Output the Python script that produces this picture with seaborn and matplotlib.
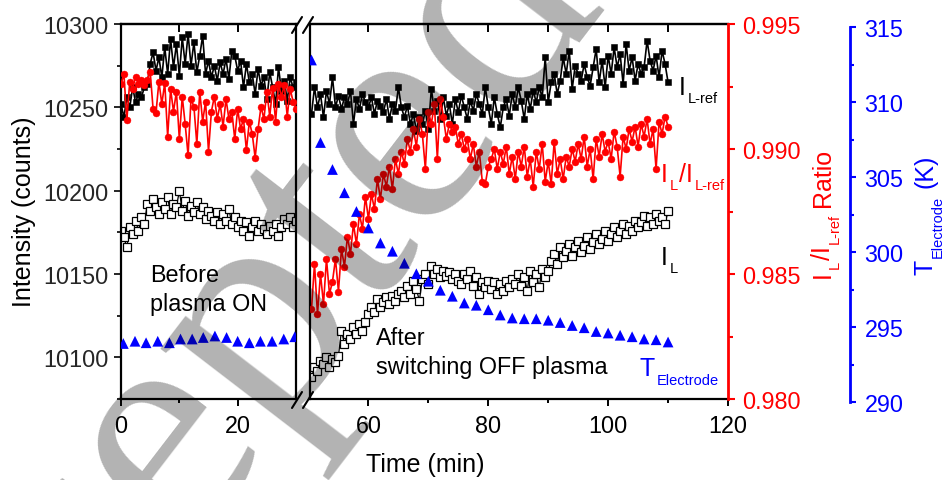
import numpy as np
import matplotlib
matplotlib.use("Agg")
import matplotlib.pyplot as plt
from matplotlib.lines import Line2D
from matplotlib.ticker import MultipleLocator, FixedLocator, FormatStrFormatter
import seaborn as sns

sns.set_theme(style="white")
plt.rcParams["font.family"] = ["Liberation Sans", "DejaVu Sans"]

# ---------------------------------------------------------------- data
# one reading every 30 s
t_before = np.arange(0.0, 30.01, 0.5)
t_after = np.arange(50.5, 110.01, 0.5)

i_ref_before = [
    10252, 10244, 10256, 10250, 10262, 10253, 10258, 10256, 10262, 10264,
    10276, 10283, 10272, 10280, 10268, 10286, 10270, 10291, 10274, 10288,
    10269, 10292, 10276, 10294, 10275, 10289, 10271, 10281, 10293, 10270,
    10278, 10268, 10275, 10266, 10277, 10270, 10279, 10267, 10284, 10281,
    10272, 10278, 10262, 10276, 10265, 10270, 10258, 10273, 10263, 10268,
    10255, 10271, 10262, 10252, 10274, 10260, 10266, 10254, 10268, 10262,
    10265]
ratio_before = [
    0.99260, 0.99300, 0.99115, 0.99270, 0.99240, 0.99290, 0.99260, 0.99275, 0.99255, 0.99275,
    0.99310, 0.99160, 0.99145, 0.99270, 0.99180, 0.99265, 0.99050, 0.99240, 0.99150, 0.99230,
    0.99040, 0.99210, 0.99100, 0.98975, 0.99200, 0.99170, 0.99020, 0.99230, 0.99110, 0.99190,
    0.98990, 0.99150, 0.99210, 0.99120, 0.99180, 0.99090, 0.99200, 0.99120, 0.99150, 0.99040,
    0.99160, 0.99080, 0.99120, 0.98995, 0.99110, 0.99060, 0.98965, 0.99080, 0.99170, 0.99120,
    0.99230, 0.99130, 0.99245, 0.99110, 0.99260, 0.99210, 0.99255, 0.99130, 0.99240, 0.99190,
    0.99160]
i_l_before = [
    10176, 10172, 10166, 10178, 10174, 10182, 10176, 10184, 10180, 10192,
    10188, 10195, 10190, 10186, 10193, 10189, 10196, 10186, 10192, 10190,
    10200, 10188, 10194, 10185, 10191, 10187, 10193, 10186, 10190, 10183,
    10188, 10185, 10182, 10187, 10180, 10186, 10182, 10189, 10180, 10184,
    10178, 10182, 10176, 10181, 10173, 10178, 10182, 10176, 10180, 10177,
    10174, 10179, 10176, 10180, 10173, 10178, 10183, 10180, 10184, 10178,
    10182]

i_ref_after = [
    10246, 10262, 10250, 10258, 10244, 10260, 10252, 10268, 10250, 10257,
    10249, 10256, 10252, 10260, 10240, 10255, 10249, 10258, 10253, 10250,
    10256, 10246, 10254, 10251, 10247, 10255, 10243, 10252, 10248, 10262,
    10250, 10244, 10251, 10240, 10246, 10236, 10244, 10240, 10248, 10237,
    10261, 10248, 10254, 10243, 10256, 10245, 10252, 10240, 10255, 10247,
    10257, 10250, 10243, 10254, 10248, 10258, 10252, 10246, 10262, 10250,
    10240, 10256, 10246, 10238, 10250, 10255, 10245, 10258, 10250, 10262,
    10254, 10243, 10258, 10249, 10260, 10253, 10262, 10256, 10280, 10253,
    10265, 10270, 10258, 10266, 10280, 10270, 10284, 10261, 10275, 10270,
    10266, 10276, 10268, 10263, 10274, 10285, 10265, 10278, 10262, 10281,
    10270, 10286, 10274, 10282, 10264, 10288, 10272, 10280, 10266, 10276,
    10270, 10274, 10290, 10278, 10272, 10281, 10268, 10284, 10276, 10265]
ratio_after = [
    0.98360, 0.98540, 0.98340, 0.98500, 0.98380, 0.98560, 0.98420, 0.98470, 0.98560, 0.98430,
    0.98600, 0.98530, 0.98650, 0.98580, 0.98700, 0.98620, 0.98740, 0.98680, 0.98810, 0.98720,
    0.98820, 0.98760, 0.98880, 0.98800, 0.98900, 0.98850, 0.98930, 0.98840, 0.98960, 0.98900,
    0.98990, 0.98940, 0.99040, 0.98990, 0.99080, 0.99010, 0.99120, 0.99060, 0.98920, 0.99150,
    0.99100, 0.99180, 0.98960, 0.99200, 0.99130, 0.99040, 0.99100, 0.99070, 0.99090, 0.99020,
    0.99060, 0.99000, 0.99040, 0.98960, 0.99020, 0.98930, 0.98990, 0.98870, 0.98860, 0.98930,
    0.98960, 0.99000, 0.98920, 0.98990, 0.98940, 0.99010, 0.98900, 0.98970, 0.98880, 0.98990,
    0.98930, 0.99010, 0.98890, 0.98960, 0.98850, 0.98990, 0.98920, 0.99020, 0.98870, 0.98950,
    0.98860, 0.99030, 0.98900, 0.98960, 0.98880, 0.98970, 0.98930, 0.99000, 0.98950, 0.99020,
    0.98960, 0.99050, 0.98930, 0.99000, 0.98880, 0.99040, 0.98970, 0.99060, 0.98990, 0.99030,
    0.98960, 0.99070, 0.99010, 0.98890, 0.99050, 0.99000, 0.99080, 0.99030, 0.99090, 0.99010,
    0.99100, 0.99050, 0.99120, 0.99020, 0.99080, 0.98920, 0.99110, 0.99060, 0.99130, 0.99090]
i_l_after = [
    10088, 10094, 10092, 10098, 10096, 10100, 10094, 10099, 10097, 10101,
    10116, 10108, 10114, 10111, 10118, 10114, 10120, 10116, 10121, 10126,
    10130, 10127, 10135, 10130, 10133, 10136, 10132, 10137, 10134, 10138,
    10140, 10136, 10143, 10138, 10146, 10141, 10134, 10147, 10150, 10144,
    10155, 10150, 10153, 10148, 10152, 10149, 10151, 10147, 10150, 10146,
    10144, 10150, 10147, 10152, 10143, 10148, 10138, 10145, 10142, 10146,
    10141, 10145, 10138, 10144, 10140, 10146, 10142, 10147, 10144, 10150,
    10143, 10148, 10140, 10152, 10145, 10150, 10142, 10153, 10148, 10152,
    10158, 10162, 10156, 10166, 10160, 10164, 10168, 10161, 10166, 10170,
    10163, 10167, 10172, 10165, 10169, 10174, 10168, 10171, 10176, 10170,
    10174, 10178, 10172, 10176, 10180, 10174, 10179, 10176, 10182, 10178,
    10181, 10185, 10179, 10184, 10180, 10186, 10182, 10184, 10180, 10188]

t_temp_before = [0.4, 2.4, 4.3, 6.3, 8.3, 10.2, 12.2, 14.1, 16.1, 18.1,
                 20.0, 22.0, 23.9, 25.9, 27.9, 29.8]
temp_before = [293.9, 294.05, 293.95, 294.05, 293.95, 294.2, 294.2, 294.3,
               294.4, 294.3, 294.05, 293.95, 294.05, 294.05, 294.2, 294.35]
t_temp_after = [50.5, 52, 54, 56, 58, 60, 62, 64, 66, 68, 70, 72, 74, 76, 78,
                80, 82, 84, 86, 88, 90, 92, 94, 96, 98, 100, 102, 104, 106,
                108, 110]
temp_after = [312.8, 307.3, 305.5, 303.95, 302.7, 301.6, 300.6, 300.05,
              299.25, 298.55, 298.05, 297.45, 297.05, 296.6, 296.45, 296.15,
              295.8, 295.6, 295.55, 295.55, 295.45, 295.3, 295.1, 294.95,
              294.7, 294.6, 294.45, 294.35, 294.2, 294.15, 294.0]

# ---------------------------------------------------------------- layout
W, H = 945, 481
fig = plt.figure(figsize=(W / 100, H / 100), dpi=100)
fig.patch.set_facecolor("white")


def box(x0, x1, y0, y1):
    return [x0 / W, 1 - y1 / H, (x1 - x0) / W, (y1 - y0) / H]


LW = 1.6
TS = 16.8
axL = fig.add_axes(box(121, 296, 25, 400))
axR = fig.add_axes(box(310, 728, 25, 400))
axLr = axL.twinx()
axRr = axR.twinx()
axLt = fig.add_axes(box(121, 296, 28, 403), sharex=axL)
axRt = fig.add_axes(box(310, 728, 28, 403), sharex=axR)
for a in (axLt, axRt):
    a.patch.set_visible(False)

# ---------------------------------------------------------------- series


def draw_counts(ax, t, ref, il):
    sns.lineplot(x=t, y=ref, ax=ax, color="black", linewidth=1.2,
                 marker="s", markersize=4.6, markerfacecolor="black",
                 markeredgecolor="black", markeredgewidth=0.4,
                 estimator=None, sort=False, errorbar=None)
    sns.lineplot(x=t, y=il, ax=ax, color="black", linewidth=0.9,
                 marker="s", markersize=5.2, markerfacecolor="white",
                 markeredgecolor="black", markeredgewidth=0.9,
                 estimator=None, sort=False, errorbar=None)


def draw_ratio(ax, t, r):
    sns.lineplot(x=t, y=r, ax=ax, color="red", linewidth=1.2,
                 marker="o", markersize=5.0, markerfacecolor="red",
                 markeredgecolor="red", markeredgewidth=0.3,
                 estimator=None, sort=False, errorbar=None)


def draw_temp(ax, t, T):
    sns.scatterplot(x=t, y=T, ax=ax, marker="^", s=60, color="blue",
                    edgecolor="none", linewidth=0)


draw_counts(axL, t_before, i_ref_before, i_l_before)
draw_counts(axR, t_after, i_ref_after, i_l_after)
draw_ratio(axLr, t_before, ratio_before)
draw_ratio(axRr, t_after, ratio_after)
draw_temp(axLt, t_temp_before, temp_before)
draw_temp(axRt, t_temp_after, temp_after)

# ---------------------------------------------------------------- axes
axL.set_xlim(0, 30)
axR.set_xlim(50.25, 120)
for a in (axL, axR):
    a.set_ylim(10075, 10300)
for a in (axLr, axRr):
    a.set_ylim(0.980, 0.995)
for a in (axLt, axRt):
    a.set_ylim(290, 315)

for a in (axL, axR, axLr, axRr, axLt, axRt):
    a.set_xlabel("")
    a.set_ylabel("")
    a.grid(False)

for a in (axLr, axLt):
    a.set_axis_off()

# main counts axes
for a in (axL, axR):
    for s in a.spines.values():
        s.set_color("black")
        s.set_linewidth(LW)
    a.tick_params(axis="x", which="both", bottom=True, top=False,
                  direction="out", colors="black", labelsize=TS, pad=6,
                  width=1.4)
    a.tick_params(axis="x", which="major", length=5)
    a.tick_params(axis="x", which="minor", length=3)

axL.xaxis.set_major_locator(FixedLocator([0, 20]))
axL.xaxis.set_minor_locator(FixedLocator([10]))
axR.xaxis.set_major_locator(FixedLocator([60, 80, 100, 120]))
axR.xaxis.set_minor_locator(FixedLocator([70, 90, 110]))

axL.yaxis.set_major_locator(FixedLocator([10100, 10150, 10200, 10250, 10300]))
axL.yaxis.set_minor_locator(FixedLocator([10075, 10125, 10175, 10225, 10275]))
axL.yaxis.set_major_formatter(FormatStrFormatter("%d"))
axL.tick_params(axis="y", which="both", left=True, right=False,
                direction="out", labelsize=TS, pad=4, width=1.4)
axL.tick_params(axis="y", which="major", length=5)
axL.tick_params(axis="y", which="minor", length=3)
axR.tick_params(axis="y", which="both", left=False, right=False,
                labelleft=False, labelright=False)
axR.spines["right"].set_visible(False)

# inward ticks along the top edge
for a, ticks in ((axL, [10, 20]), (axR, [60, 70, 80, 90, 100, 110])):
    sec = a.secondary_xaxis("top")
    sec.set_xticks(ticks)
    sec.tick_params(axis="x", direction="in", length=6, width=1.4,
                    labeltop=False, colors="black")
    sec.spines["top"].set_linewidth(LW)

# ratio axis (red)
for k in ("top", "bottom", "left"):
    axRr.spines[k].set_visible(False)
axRr.spines["right"].set_color("red")
axRr.spines["right"].set_linewidth(2.0)
axRr.yaxis.set_major_locator(MultipleLocator(0.005))
axRr.yaxis.set_minor_locator(FixedLocator([0.9825, 0.9875, 0.9925]))
axRr.yaxis.set_major_formatter(FormatStrFormatter("%.3f"))
axRr.tick_params(axis="y", which="both", right=True, left=False,
                 direction="out", colors="red", labelsize=TS, pad=5, width=1.5)
axRr.tick_params(axis="y", which="major", length=5)
axRr.tick_params(axis="y", which="minor", length=3.5)

# temperature axis (blue), offset to the right
for k in ("top", "bottom", "left"):
    axRt.spines[k].set_visible(False)
axRt.xaxis.set_visible(False)
axRt.yaxis.tick_right()
axRt.spines["right"].set_position(("axes", (850 - 310) / 418))
axRt.spines["right"].set_color("blue")
axRt.spines["right"].set_linewidth(2.0)
axRt.yaxis.set_major_locator(MultipleLocator(5))
axRt.yaxis.set_minor_locator(FixedLocator([292.5, 297.5, 302.5, 307.5, 312.5]))
axRt.yaxis.set_major_formatter(FormatStrFormatter("%d"))
axRt.tick_params(axis="y", which="both", right=True, left=False,
                 direction="out", colors="blue", labelsize=TS, pad=6, width=1.5)
axRt.tick_params(axis="y", which="major", length=4.5)
axRt.tick_params(axis="y", which="minor", length=3)

# axis break marks
for xc in (297, 308):
    for yc in (26, 401):
        fig.add_artist(Line2D([(xc - 5) / W, (xc + 5) / W],
                              [1 - (yc + 8) / H, 1 - (yc - 8) / H],
                              transform=fig.transFigure, color="black",
                              lw=1.5))

# ---------------------------------------------------------------- text
renderer = fig.canvas.get_renderer()


def measure(s, size):
    t = fig.text(0, 0, s, fontsize=size)
    w = t.get_window_extent(renderer=renderer).width
    t.remove()
    return w


def rich_h(x0, y_base, pieces, color):
    x = x0
    for s, size, drop, gap in pieces:
        fig.text(x / W, 1 - (y_base + drop) / H, s, fontsize=size,
                 color=color, ha="left", va="baseline")
        x += measure(s, size) + gap


def rich_v(x_base, y_center, pieces, color):
    total = sum(measure(s, size) + gap for s, size, drop, gap in pieces)
    y = y_center + total / 2
    for s, size, drop, gap in pieces:
        fig.text((x_base + drop) / W, 1 - y / H, s, fontsize=size,
                 color=color, rotation=90, rotation_mode="anchor",
                 ha="left", va="baseline")
        y -= measure(s, size) + gap


fig.text(24 / W, 1 - 212 / H, "Intensity (counts)", fontsize=18,
         rotation=90, ha="center", va="center", color="black")
fig.text(425 / W, 1 - 465 / H, "Time (min)", fontsize=18,
         ha="center", va="center", color="black")

rich_v(830, 213, [("I", 18, 0, 2), ("L", 10.5, 9, 1), ("/I", 18, 0, 2),
                  ("L-ref", 10.5, 9, 7), ("Ratio", 18, 0, 0)], "red")
rich_v(933, 215, [("T", 18, 0, 2), ("Electrode", 10.5, 9, 7),
                  ("(K)", 18, 0, 0)], "blue")

rich_h(679, 95, [("I", 18, 0, 2), ("L-ref", 10.5, 8, 0)], "black")
rich_h(661, 182, [("I", 18, 0, 2), ("L", 10.5, 8, 1), ("/I", 18, 0, 2),
                  ("L-ref", 10.5, 8, 0)], "red")
rich_h(661, 265, [("I", 18, 0, 2), ("L", 10.5, 8, 0)], "black")
rich_h(640, 376, [("T", 18, 0, 2), ("Electrode", 10.5, 9, 0)], "blue")

fig.text(150 / W, 1 - 264 / H, "Before\nplasma ON", fontsize=TS,
         ha="left", va="top", linespacing=1.35, color="black")
fig.text(376 / W, 1 - 327 / H, "After\nswitching OFF plasma", fontsize=TS,
         ha="left", va="top", linespacing=1.35, color="black")

# watermark stamp
fig.text(-128 / W, -479 / H, "Accepted", fontsize=230,
         family=["Liberation Serif", "DejaVu Serif"], rotation=52.5,
         rotation_mode="anchor", ha="left", va="baseline", color="black",
         alpha=0.3, zorder=10)

fig.savefig("out.png", dpi=100)
